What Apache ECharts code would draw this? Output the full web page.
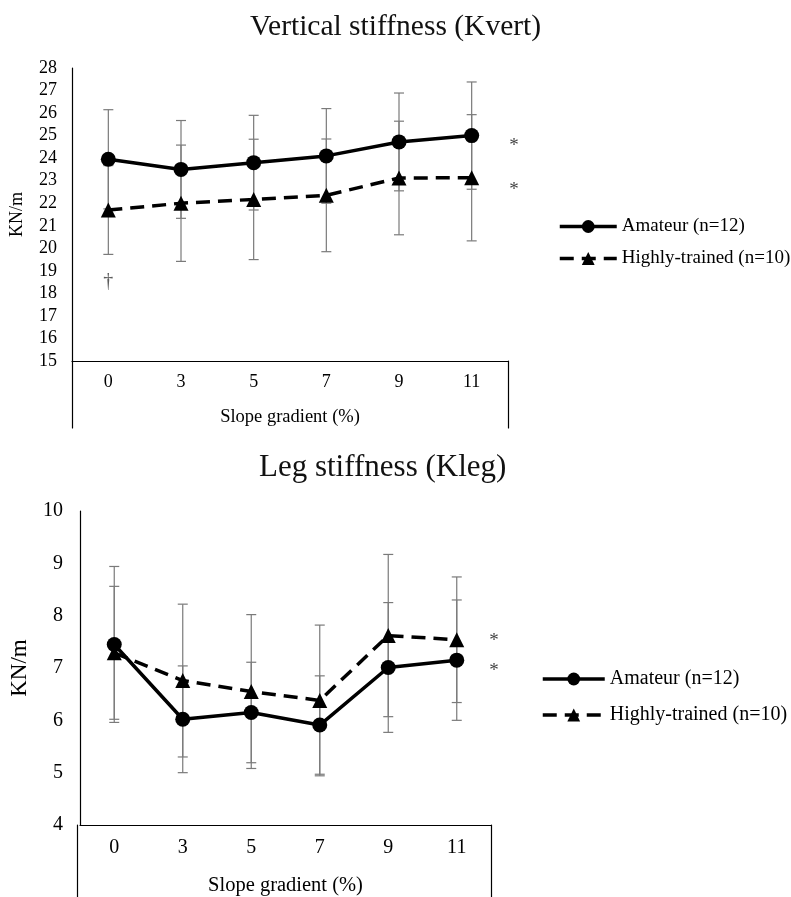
<!DOCTYPE html>
<html>
<head>
<meta charset="utf-8">
<script src="https://cdn.jsdelivr.net/npm/echarts@6/dist/echarts.min.js"></script>
<style>html,body{margin:0;padding:0;background:#fff}#c{width:791px;height:897px}</style>
</head>
<body>
<div id="c"></div>
<script>
// ---- data ----
const categories = ['0', '3', '5', '7', '9', '11'];
const seriesNames = ['Amateur (n=12)', 'Highly-trained (n=10)'];

const kvertAmateur   = [23.95, 23.5, 23.8, 24.1, 24.72, 25.0];
const kvertAmateurSD = [2.2, 2.17, 2.1, 2.1, 2.17, 2.38];
const kvertTrained   = [21.7, 22.0, 22.17, 22.35, 23.12, 23.13];
const kvertTrainedSD = [1.97, 2.58, 2.67, 2.5, 2.52, 2.8];
const kvertAmateurSig = ['', '', '', '', '', '*'];
const kvertTrainedSig = ['', '', '', '', '', '*'];
const kvertDagger = [18.5, null, null, null, null, null];

const klegAmateur   = [7.45, 6.02, 6.15, 5.91, 7.01, 7.15];
const klegAmateurSD = [1.49, 1.02, 0.96, 0.94, 1.24, 1.15];
const klegTrained   = [7.29, 6.76, 6.55, 6.38, 7.62, 7.54];
const klegTrainedSD = [1.27, 1.46, 1.47, 1.44, 1.55, 1.2];
const klegAmateurSig = ['', '', '', '', '', '*'];
const klegTrainedSig = ['', '', '', '', '', '*'];

const kvertTicks = {min: 15, max: 28, interval: 1};
const klegTicks = {min: 4, max: 10, interval: 1};

// ---- chart ----
const FONT = 'Liberation Serif';
const chart = echarts.init(document.getElementById('c'), null, {renderer: 'canvas'});

function errRender(params, api) {
  const x = api.value(0);
  const lo = api.coord([x, api.value(1)]);
  const hi = api.coord([x, api.value(2)]);
  const w = 5;
  const style = {stroke: '#7a7a7a', lineWidth: 1.2};
  return {type: 'group', children: [
    {type: 'line', shape: {x1: lo[0], y1: lo[1], x2: hi[0], y2: hi[1]}, style},
    {type: 'line', shape: {x1: lo[0] - w, y1: lo[1], x2: lo[0] + w, y2: lo[1]}, style},
    {type: 'line', shape: {x1: hi[0] - w, y1: hi[1], x2: hi[0] + w, y2: hi[1]}, style}
  ]};
}
function errData(mean, sd) {
  return mean.map((m, i) => [i, m - sd[i], m + sd[i]]);
}
function withSig(vals, sig, dist, dy) {
  return vals.map((v, i) => sig[i] ? {
    value: v,
    label: {show: true, formatter: sig[i], position: 'right', distance: dist, offset: [0, dy],
            fontFamily: FONT, fontSize: 19, color: '#444'}
  } : v);
}
function errSeries(name, mean, sd, xi, yi) {
  return {name, type: 'custom', xAxisIndex: xi, yAxisIndex: yi, renderItem: errRender,
    data: errData(mean, sd), encode: {x: 0, y: [1, 2]}, z: 1, silent: true};
}
function lineSeries(name, data, xi, yi, dashed) {
  return {
    name, type: 'line', xAxisIndex: xi, yAxisIndex: yi, data,
    symbol: dashed ? 'triangle' : 'circle', symbolSize: 15,
    itemStyle: {color: '#000'},
    lineStyle: {color: '#000', width: 3.5, type: dashed ? [14, 8] : 'solid'},
    z: 3, animation: false
  };
}
const catAxis = (gi, lblSize, margin, nameGap) => ({
  type: 'category', gridIndex: gi, data: categories, boundaryGap: true,
  axisLine: {lineStyle: {color: '#000', width: 1.2}}, axisTick: {show: false},
  axisLabel: {color: '#000', fontFamily: FONT, fontSize: lblSize, margin},
  name: 'Slope gradient (%)', nameLocation: 'middle', nameGap,
  nameTextStyle: {color: '#000', fontFamily: FONT, fontSize: lblSize + 0.5}
});
const valAxis = (gi, t, lblSize, margin, nameSize, nameGap) => ({
  type: 'value', gridIndex: gi, min: t.min, max: t.max, interval: t.interval,
  axisLine: {show: true, lineStyle: {color: '#000', width: 1.2}}, axisTick: {show: false},
  splitLine: {show: false},
  axisLabel: {color: '#000', fontFamily: FONT, fontSize: lblSize, margin},
  name: 'KN/m', nameLocation: 'middle', nameGap,
  nameTextStyle: {color: '#000', fontFamily: FONT, fontSize: nameSize}
});
const boxY = (gi, pos) => ({
  type: 'value', gridIndex: gi, position: pos, min: 0, max: 1,
  axisLine: {show: true, onZero: false, lineStyle: {color: '#000', width: 1.2}},
  axisTick: {show: false}, axisLabel: {show: false}, splitLine: {show: false}
});
const boxX = (gi) => ({type: 'value', gridIndex: gi, show: false, min: 0, max: 1});

const legendLine = {width: 3.5, type: 'inherit', color: '#000'};

const option = {
  backgroundColor: '#fff',
  animation: false,
  title: [
    {text: 'Vertical stiffness (Kvert)', left: 250, top: 12, padding: 0,
     textStyle: {fontFamily: FONT, fontSize: 29.5, fontWeight: 'normal', color: '#111'}},
    {text: 'Leg stiffness (Kleg)', left: 259, top: 452, padding: 0,
     textStyle: {fontFamily: FONT, fontSize: 31, fontWeight: 'normal', color: '#111'}}
  ],
  legend: [
    {data: seriesNames, orient: 'vertical', left: 558, top: 217, padding: 0,
     itemWidth: 57, itemHeight: 16, itemGap: 13, lineStyle: legendLine,
     textStyle: {fontFamily: FONT, fontSize: 19, color: '#000'}},
    {data: seriesNames, orient: 'vertical', left: 541, top: 669, padding: 0,
     itemWidth: 62, itemHeight: 16, itemGap: 16, lineStyle: legendLine,
     textStyle: {fontFamily: FONT, fontSize: 20, color: '#000'}}
  ],
  grid: [
    {left: 72, top: 68, width: 436, height: 293},
    {left: 72, top: 361, width: 436, height: 67},
    {left: 77, top: 511, width: 414, height: 314},
    {left: 77, top: 825, width: 414, height: 100}
  ],
  xAxis: [
    catAxis(0, 18, 12, 47),
    boxX(1),
    catAxis(2, 20, 13, 50),
    boxX(3)
  ],
  yAxis: [
    valAxis(0, kvertTicks, 18, 15, 18, 46),
    boxY(1, 'left'), boxY(1, 'right'),
    valAxis(2, klegTicks, 20, 17, 23, 49),
    boxY(3, 'left'), boxY(3, 'right')
  ],
  series: [
    errSeries('kvert trained SD', kvertTrained, kvertTrainedSD, 0, 0),
    errSeries('kvert amateur SD', kvertAmateur, kvertAmateurSD, 0, 0),
    lineSeries(seriesNames[1], withSig(kvertTrained, kvertTrainedSig, 30, 12), 0, 0, true),
    lineSeries(seriesNames[0], withSig(kvertAmateur, kvertAmateurSig, 30, 10), 0, 0, false),
    {name: 'dagger', type: 'scatter', xAxisIndex: 0, yAxisIndex: 0, symbolSize: 1,
     itemStyle: {color: 'rgba(0,0,0,0)'}, silent: true,
     data: kvertDagger.map((v, i) => v == null ? null : [i, v]).filter(d => d),
     label: {show: true, formatter: '†', position: 'inside', fontFamily: FONT, fontSize: 20, color: '#333'}},
    errSeries('kleg trained SD', klegTrained, klegTrainedSD, 2, 3),
    errSeries('kleg amateur SD', klegAmateur, klegAmateurSD, 2, 3),
    lineSeries(seriesNames[1], withSig(klegTrained, klegTrainedSig, 25, 1), 2, 3, true),
    lineSeries(seriesNames[0], withSig(klegAmateur, klegAmateurSig, 25, 11), 2, 3, false)
  ]
};
chart.setOption(option);
</script>
</body>
</html>
